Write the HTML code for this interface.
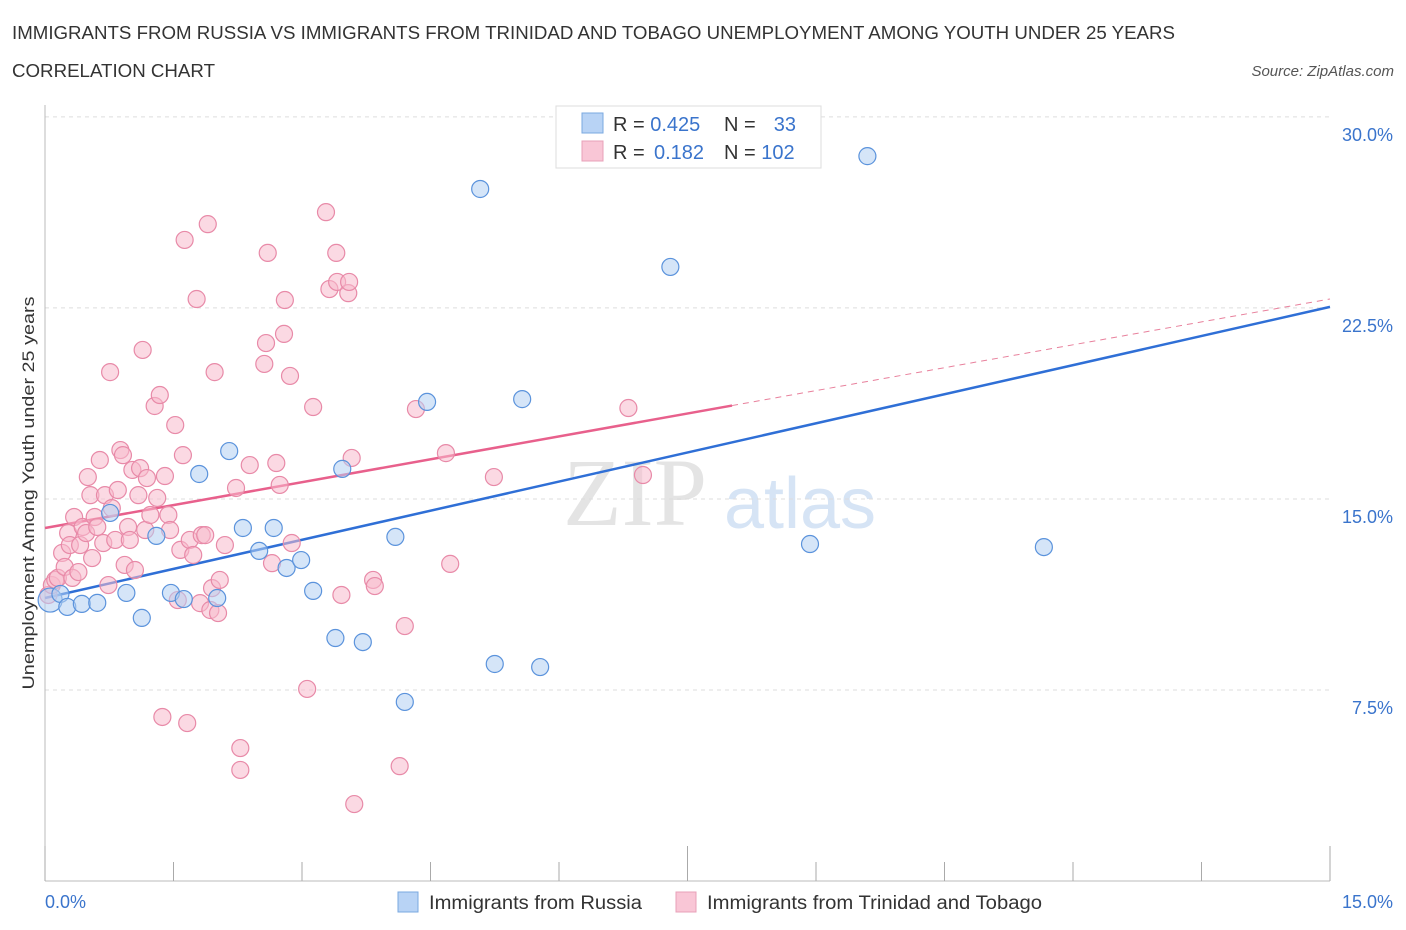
<!DOCTYPE html>
<html><head><meta charset="utf-8"><style>
body{margin:0;background:#fff;font-family:"Liberation Sans",sans-serif;}
svg{display:block}
</style></head><body>
<svg id="chart" width="1406" height="930">
<text x="12" y="39" font-size="18" fill="#333" textLength="1163" lengthAdjust="spacingAndGlyphs">IMMIGRANTS FROM RUSSIA VS IMMIGRANTS FROM TRINIDAD AND TOBAGO UNEMPLOYMENT AMONG YOUTH UNDER 25 YEARS</text>
<text x="12" y="77" font-size="18" fill="#333" textLength="203" lengthAdjust="spacingAndGlyphs">CORRELATION CHART</text>
<text x="1394" y="76" font-size="15" font-style="italic" fill="#555" text-anchor="end">Source: ZipAtlas.com</text>
<text x="635" y="525" font-size="96" font-family="Liberation Serif" fill="#e4e4e4" text-anchor="middle">ZIP</text>
<text x="800" y="528" font-size="72" fill="#d6e4f5" text-anchor="middle">atlas</text>
<g id="grid"></g>
<g id="axes"></g>
<g id="trends"></g>
<g id="points"></g>
<text transform="translate(34,493) rotate(-90)" font-size="17" fill="#333" text-anchor="middle" textLength="393" lengthAdjust="spacingAndGlyphs">Unemployment Among Youth under 25 years</text>
<g>
<rect x="556" y="106" width="265" height="62" fill="#fff" stroke="#ddd"/>
<rect x="582" y="113" width="21" height="20" fill="#b8d3f5" stroke="#7aa8e0"/>
<rect x="582" y="141" width="21" height="20" fill="#f9c6d6" stroke="#e8a0b8"/>
<text x="613" y="131" font-size="20" fill="#333">R = <tspan fill="#3a74cc">0.425</tspan></text>
<text x="724" y="131" font-size="20" fill="#333">N =</text>
<text x="796" y="131" font-size="20" fill="#3a74cc" text-anchor="end">33</text>
<text x="613" y="159" font-size="20" fill="#333">R = </text>
<text x="654" y="159" font-size="20" fill="#3a74cc">0.182</text>
<text x="724" y="159" font-size="20" fill="#333">N = <tspan fill="#3a74cc">102</tspan></text>
</g>
<g>
<rect x="398" y="892" width="20" height="20" fill="#b8d3f5" stroke="#7aa8e0"/>
<text x="429" y="909" font-size="19" fill="#333" textLength="213" lengthAdjust="spacingAndGlyphs">Immigrants from Russia</text>
<rect x="676" y="892" width="20" height="20" fill="#f9c6d6" stroke="#e8a0b8"/>
<text x="707" y="909" font-size="19" fill="#333" textLength="335" lengthAdjust="spacingAndGlyphs">Immigrants from Trinidad and Tobago</text>
</g>
</svg>
<script>
const blueX=[0.06,0.18,0.26,0.43,0.61,0.76,0.95,1.13,1.30,1.47,1.62,1.80,2.01,2.15,2.31,2.50,2.67,2.82,2.99,3.13,3.39,3.47,3.71,4.09,4.20,4.46,5.08,5.25,5.57,5.78,7.30,8.93,9.60,11.66];
const blueY=[11.03,11.27,10.76,10.88,10.92,14.45,11.31,10.33,13.55,11.31,11.07,15.98,11.11,16.88,13.86,12.96,13.86,12.29,12.60,11.39,9.54,16.18,9.38,13.51,7.03,18.81,27.17,8.52,18.92,8.40,24.11,13.23,28.46,13.11];
const pinkX=[0.04,0.08,0.12,0.15,0.20,0.23,0.27,0.29,0.32,0.34,0.39,0.41,0.44,0.48,0.50,0.53,0.55,0.58,0.61,0.64,0.68,0.70,0.74,0.76,0.78,0.82,0.85,0.88,0.91,0.93,0.97,0.99,1.02,1.05,1.09,1.11,1.14,1.17,1.19,1.23,1.28,1.31,1.34,1.37,1.40,1.44,1.46,1.52,1.55,1.58,1.61,1.63,1.66,1.69,1.73,1.77,1.81,1.83,1.87,1.90,1.93,1.95,1.98,2.02,2.04,2.10,2.23,2.28,2.28,2.39,2.60,2.56,2.58,2.65,2.70,2.74,2.79,2.80,2.86,2.88,3.06,3.13,3.28,3.32,3.40,3.41,3.46,3.54,3.55,3.58,3.61,3.83,3.85,4.14,4.20,4.33,4.68,4.73,5.24,6.81,6.98];
const pinkY=[11.23,11.62,11.82,11.90,12.88,12.33,13.66,13.19,11.90,14.29,12.13,13.19,13.90,13.66,15.86,15.15,12.68,14.29,13.90,16.53,13.27,15.15,11.62,19.98,14.64,13.39,15.35,16.92,16.72,12.41,13.90,13.39,16.14,12.21,15.15,16.21,20.85,13.78,15.82,14.37,18.65,15.04,19.08,6.44,15.90,14.37,13.78,17.90,11.03,13.00,16.72,25.17,6.20,13.39,12.80,22.85,10.91,13.58,13.58,25.79,10.64,11.50,19.98,10.52,11.82,13.19,15.43,5.22,4.36,16.33,24.66,20.30,21.12,12.48,16.41,15.55,21.48,22.81,19.83,13.27,7.54,18.61,26.26,23.24,24.66,23.52,11.23,23.08,23.52,16.61,3.02,11.82,11.58,4.51,10.01,18.53,16.80,12.45,15.86,18.57,15.94];
const yTicks=[7.5,15,22.5,30];
const yTickLabels=["7.5%","15.0%","22.5%","30.0%"];
const xTicks=[0,1.5,3,4.5,6,7.5,9,10.5,12,13.5,15];
const blueTrend=[11.11,22.54];
const pinkTrend=[13.86,22.85];
const pinkSolidEnd=8.02;

const NS="http://www.w3.org/2000/svg";
const X=v=>45+v/15*1285;
const Y=v=>881-v*25.47;
function mk(tag,attrs,parent){const e=document.createElementNS(NS,tag);for(const k in attrs)e.setAttribute(k,attrs[k]);parent.appendChild(e);return e;}
const grid=document.getElementById('grid'),axes=document.getElementById('axes'),trends=document.getElementById('trends'),pts=document.getElementById('points');
yTicks.forEach((t,i)=>{
  const l=mk('line',{x1:45,x2:1330,y1:Y(t),y2:Y(t),stroke:'#ddd','stroke-dasharray':'4,4'},grid);
  
  
  const tx=mk('text',{x:1393,y:Y(t)+24,'font-size':18,fill:'#3a74cc','text-anchor':'end'},axes);
  tx.textContent=yTickLabels[i];
  
  
});
const ax=mk('line',{x1:45,x2:1330,y1:881,y2:881,stroke:'#bbb'},axes);


const ay=mk('line',{x1:45,x2:45,y1:105,y2:881,stroke:'#bbb'},axes);


xTicks.forEach(t=>{
  const l=mk('line',{x1:X(t),x2:X(t),y1:881,y2:(t===0||t===15||t===7.5)?846:862,stroke:'#aaa'},axes);
  
  
});
const xl0=mk('text',{x:45,y:908,'font-size':18,fill:'#3a74cc'},axes);xl0.textContent="0.0%";


const xl1=mk('text',{x:1393,y:908,'font-size':18,fill:'#3a74cc','text-anchor':'end'},axes);xl1.textContent="15.0%";



function dot(x,y,r,fill,stroke,name){
  const c=mk('circle',{cx:X(x),cy:Y(y),r:r,fill:fill,'fill-opacity':0.55,stroke:stroke,'stroke-width':1.2},pts);
  
  
}
pinkX.forEach((x,i)=>dot(x,pinkY[i],8.5,'#f7b9cc','#e88aa8','trinidad-point'));
blueX.forEach((x,i)=>dot(x,blueY[i],i===0?12:8.5,'#b3cff2','#5b93dc','russia-point'));

const pk=v=>pinkTrend[0]+(pinkTrend[1]-pinkTrend[0])*v/15;
const tp=mk('line',{x1:X(0),y1:Y(pinkTrend[0]),x2:X(pinkSolidEnd),y2:Y(pk(pinkSolidEnd)),stroke:'#e8608c','stroke-width':2.5},trends);


const tpd=mk('line',{x1:X(pinkSolidEnd),y1:Y(pk(pinkSolidEnd)),x2:X(15),y2:Y(pinkTrend[1]),stroke:'#e8809c','stroke-width':1,'stroke-dasharray':'6,5'},trends);


const tb=mk('line',{x1:X(0),y1:Y(blueTrend[0]),x2:X(15),y2:Y(blueTrend[1]),stroke:'#2f6fd6','stroke-width':2.5},trends);


</script>
</body></html>
